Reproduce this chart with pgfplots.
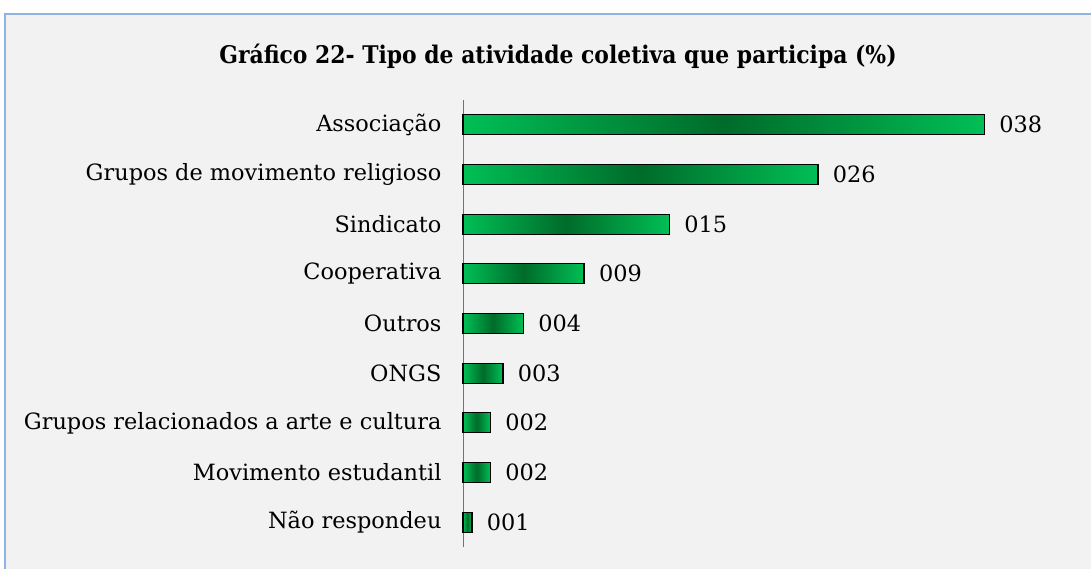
\documentclass[border=0pt]{standalone}
\usepackage{pgfplots}
\pgfplotsset{compat=1.18}
\usepackage{fontspec}
\setmainfont{DejaVu Serif}
\definecolor{bg}{HTML}{F2F2F2}
\definecolor{frameblue}{HTML}{8EB4E3}
\definecolor{barlight}{HTML}{00BF55}
\definecolor{bardark}{HTML}{006B2A}
\pgfplotsset{
  mybar/.style={xbar, bar width=20bp, bar shift=0pt, draw=black, line width=1.2bp,
    left color=barlight, right color=barlight, middle color=bardark,
    point meta=explicit symbolic,
    nodes near coords,
    nodes near coords style={font=\fontsize{22.5}{26}\selectfont, anchor=west, xshift=11bp, text=black}}
}
\begin{document}
\begin{tikzpicture}
\useasboundingbox (0,0) rectangle (1091bp,569bp);
\clip (0,0) rectangle (1091bp,569bp);
\fill[white] (0,0) rectangle (1091bp,569bp);
\filldraw[fill=bg, draw=frameblue, line width=1.5bp] (5bp,-10bp) rectangle (1100bp,555bp);
\node at (558bp,513bp) {\scalebox{0.9}[1]{\bfseries\fontsize{24.4}{28}\selectfont Gráfico 22- Tipo de atividade coletiva que participa (\%)}};
\begin{axis}[
  at={(463bp,22bp)}, anchor=south west, scale only axis,
  width=550.4bp, height=447bp,
  xmin=0, xmax=40, ymin=-0.5, ymax=8.5,
  axis x line=none, axis y line=left,
  y axis line style={-, draw=gray!90!black, line width=1bp},
  ytick={0,...,8},
  yticklabels={Não respondeu, Movimento estudantil, Grupos relacionados a arte e cultura, ONGS, Outros, Cooperativa, Sindicato, Grupos de movimento religioso, Associação},
  major tick length=0pt,
  yticklabel style={font=\fontsize{22.5}{26}\selectfont, xshift=-18bp},
  clip=false,
]
\addplot[mybar] coordinates {(37.9,8) [038]};
\addplot[mybar] coordinates {(25.8,7) [026]};
\addplot[mybar] coordinates {(15.0,6) [015]};
\addplot[mybar] coordinates {(8.8,5) [009]};
\addplot[mybar] coordinates {(4.4,4) [004]};
\addplot[mybar] coordinates {(2.9,3) [003]};
\addplot[mybar] coordinates {(2.0,2) [002]};
\addplot[mybar] coordinates {(2.0,1) [002]};
\addplot[mybar] coordinates {(0.65,0) [001]};
\end{axis}
\end{tikzpicture}
\end{document}
